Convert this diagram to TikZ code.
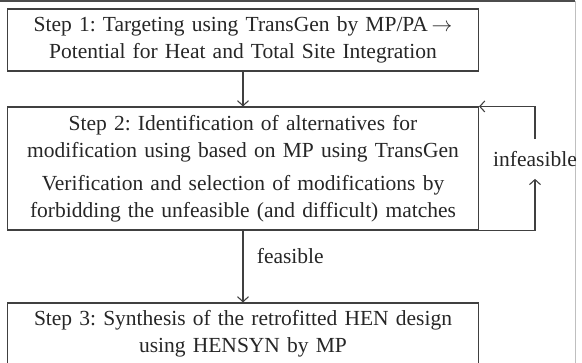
\documentclass[tikz,border=0pt]{standalone}
\usepackage{fontspec}
\setmainfont{Liberation Serif}
\usetikzlibrary{arrows.meta,positioning}

\begin{document}
\frenchspacing
\begin{tikzpicture}[x=1pt,y=-1pt,
  stepbox/.style={draw=black!75,line width=1.1pt,text width=465pt,align=center,inner xsep=3pt,inner ysep=0pt,font=\fontsize{21.5}{27}\selectfont,text=black!85},
  flow/.style={-{Straight Barb[length=5pt,width=11pt]},draw=black!75,line width=1.1pt},
  lbl/.style={font=\fontsize{21.5}{24}\selectfont,text=black!85}]
\useasboundingbox (0,0) rectangle (582,363);
\clip (0,0) rectangle (582,363);
\draw[black!70,line width=2pt] (0,1) -- (575,1);
\draw[black!25,line width=1pt] (575,1) -- (575,363);
\node[stepbox,minimum height=62pt] (s1) at (243,40) {Step 1: Targeting using TransGen by MP/PA\,$\rightarrow$\\ Potential for Heat and Total Site Integration};
\node[stepbox,minimum height=123pt] (s2) at (243,168.5) {Step 2: Identification of alternatives for\\ modification using based on MP using TransGen\\[6pt] Verification and selection of modifications by\\ forbidding the unfeasible (and difficult) matches};
\node[stepbox,minimum height=62pt] (s3) at (243,334) {Step 3: Synthesis of the retrofitted HEN design\\ using HENSYN by MP};
\node[lbl,inner xsep=0pt,inner ysep=12pt] (inf) at (535,159) {infeasible};
\draw[flow] (s1) -- (s2);
\draw[flow] (s2) -- node[lbl,pos=0.36,right=10pt] (fs) {feasible} (s3);
\draw[flow] (s2.south east) -| (inf.south);
\draw[flow] (inf.north) |- (s2.north east);
\end{tikzpicture}
\end{document}
